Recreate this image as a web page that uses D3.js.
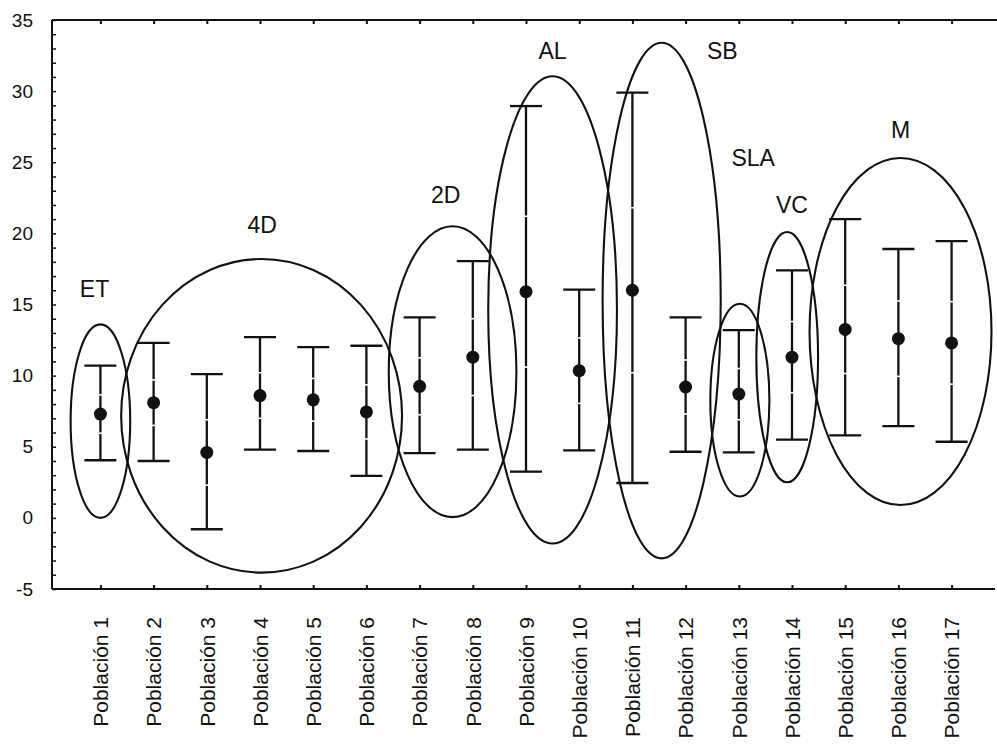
<!DOCTYPE html>
<html>
<head>
<meta charset="utf-8">
<script src="https://cdn.jsdelivr.net/npm/d3@7"></script>
<style>
  html, body { margin: 0; padding: 0; background: #fff; }
  svg { display: block; font-family: "Liberation Sans", Arial, sans-serif; }
</style>
</head>
<body>
<svg id="chart" width="997" height="745"></svg>
<script>
// Populations along the x axis
const categories = ["Población 1","Población 2","Población 3","Población 4","Población 5",
  "Población 6","Población 7","Población 8","Población 9","Población 10","Población 11",
  "Población 12","Población 13","Población 14","Población 15","Población 16","Población 17"];

// Mean and whisker ends for each population
const means = [7.3, 8.1, 4.6, 8.6, 8.3, 7.45, 9.25, 11.3, 15.9, 10.35, 16.0, 9.2, 8.7, 11.3, 13.25, 12.6, 12.3];
const upper = [10.7, 12.3, 10.1, 12.7, 12.0, 12.1, 14.1, 18.05, 28.95, 16.05, 29.9, 14.1, 13.2, 17.4, 21.0, 18.9, 19.45];
const lower = [4.05, 4.0, -0.8, 4.8, 4.7, 2.95, 4.55, 4.8, 3.25, 4.75, 2.45, 4.65, 4.6, 5.5, 5.8, 6.45, 5.35];
// Inner (standard error) marks on each whisker
const se = [1.35, 1.6, 2.3, 1.6, 1.5, 1.9, 2.0, 2.7, 5.3, 2.3, 5.8, 1.9, 1.8, 2.5, 3.1, 2.65, 2.9];

// Y axis ticks
const yLabelTicks = [-5, 0, 5, 10, 15, 20, 25, 30, 35];
const yMinorTicks = d3.range(-5, 36, 1);

// Group ellipses: name, centre (population index), half width (in populations), top and bottom values
const groupNames  = ["ET", "4D", "2D", "AL", "SB", "SLA", "VC", "M"];
const groupCenter = [1.0, 4.03, 7.62, 9.5, 11.55, 13.02, 13.91, 16.04];
const groupHalfW  = [0.56, 2.64, 1.2, 1.21, 1.11, 0.555, 0.58, 1.71];
const groupTop    = [13.6, 18.2, 20.5, 31.05, 33.4, 15.05, 20.1, 25.3];
const groupBottom = [0.0, -3.85, 0.05, -1.8, -2.85, 1.5, 2.5, 0.9];
// Group label anchors (population index, value)
const labelPos    = [0.89, 4.04, 7.49, 9.5, 12.69, 13.27, 14.0, 16.04];
const labelVal    = [16.1, 20.6, 22.7, 32.8, 32.8, 25.3, 22.0, 27.3];

const svg = d3.select("#chart");
const plotLeft = 52, plotTop = 20, plotBottom = 589, plotRight = 1000;

const x = d3.scalePoint().domain(categories).range([plotLeft, plotRight]).padding(0.91);
const xi = d3.scaleLinear().domain([1, categories.length])
  .range([x(categories[0]), x(categories[categories.length - 1])]);
const y = d3.scaleLinear().domain([-5, 35]).range([plotBottom, plotTop]);

const data = categories.map((c, i) => ({ c, m: means[i], hi: upper[i], lo: lower[i], se: se[i] }));
const groups = groupNames.map((g, i) => ({
  g, cx: groupCenter[i], rx: groupHalfW[i], t: groupTop[i], b: groupBottom[i],
  lx: labelPos[i], ly: labelVal[i]
}));

// Frame lines (left, top, bottom)
const frame = svg.append("g").attr("stroke", "#111").attr("stroke-width", 2).attr("fill", "none");
frame.append("line").attr("x1", plotLeft).attr("x2", plotLeft).attr("y1", plotTop).attr("y2", plotBottom);
frame.append("line").attr("x1", plotLeft).attr("x2", 997).attr("y1", plotTop).attr("y2", plotTop);
frame.append("line").attr("x1", plotLeft).attr("x2", 995).attr("y1", plotBottom).attr("y2", plotBottom);

// Y axis labels (plain hyphen for negatives)
const yAxis = svg.append("g").attr("transform", `translate(${plotLeft},0)`)
  .call(d3.axisLeft(y).tickValues(yLabelTicks).tickSize(0).tickPadding(19).tickFormat(d => String(d)));
yAxis.select(".domain").remove();
yAxis.selectAll("text").attr("font-size", 19).attr("fill", "#111")
  .attr("font-family", "Liberation Sans, Arial, sans-serif");

// Minor ticks on the inside of the left axis
const yMinor = svg.append("g").attr("transform", `translate(${plotLeft},0)`)
  .call(d3.axisRight(y).tickValues(yMinorTicks).tickSize(4).tickFormat(""));
yMinor.select(".domain").remove();
yMinor.selectAll("line").attr("stroke", "#111").attr("stroke-width", 1.5);

// Top axis ticks (inward)
const xTop = svg.append("g").attr("transform", `translate(0,${plotTop})`)
  .call(d3.axisBottom(x).tickSize(4).tickFormat(""));
xTop.select(".domain").remove();
xTop.selectAll("line").attr("stroke", "#111").attr("stroke-width", 2);

// Bottom axis with rotated population labels
const xAxis = svg.append("g").attr("transform", `translate(0,${plotBottom})`)
  .call(d3.axisBottom(x).tickSizeInner(-4).tickSizeOuter(0));
xAxis.select(".domain").remove();
xAxis.selectAll("line").attr("stroke", "#111").attr("stroke-width", 2);
xAxis.selectAll("text")
  .attr("font-size", 21).attr("fill", "#111")
  .attr("font-family", "Liberation Sans, Arial, sans-serif")
  .attr("transform", "rotate(-90)")
  .attr("text-anchor", "end")
  .attr("x", -28).attr("y", 0).attr("dy", "0.35em");

// Group ellipses
svg.append("g").selectAll("ellipse").data(groups).join("ellipse")
  .attr("cx", d => xi(d.cx))
  .attr("cy", d => (y(d.t) + y(d.b)) / 2)
  .attr("rx", d => xi(d.cx + d.rx) - xi(d.cx))
  .attr("ry", d => (y(d.b) - y(d.t)) / 2)
  .attr("fill", "none").attr("stroke", "#111").attr("stroke-width", 2.1);

// Group labels
svg.append("g").selectAll("text").data(groups).join("text")
  .attr("x", d => xi(d.lx)).attr("y", d => y(d.ly))
  .attr("text-anchor", "middle").attr("dominant-baseline", "central")
  .attr("font-size", 23).attr("fill", "#111")
  .text(d => d.g);

// Error bars
const bars = svg.append("g");
bars.selectAll("line.whisker").data(data).join("line").attr("class", "whisker")
  .attr("x1", d => x(d.c)).attr("x2", d => x(d.c))
  .attr("y1", d => y(d.hi)).attr("y2", d => y(d.lo))
  .attr("stroke", "#111").attr("stroke-width", 2.3);

// Light breaks marking the standard error on each whisker
const seMarks = data.flatMap(d => [d.m + d.se, d.m - d.se].map(v => ({ c: d.c, v })));
bars.selectAll("line.se").data(seMarks).join("line").attr("class", "se")
  .attr("x1", d => x(d.c) - 2.5).attr("x2", d => x(d.c) + 2.5)
  .attr("y1", d => y(d.v)).attr("y2", d => y(d.v))
  .attr("stroke", "#fff").attr("stroke-width", 1.6);

bars.selectAll("line.capHi").data(data).join("line").attr("class", "capHi")
  .attr("x1", d => x(d.c) - 16).attr("x2", d => x(d.c) + 16)
  .attr("y1", d => y(d.hi)).attr("y2", d => y(d.hi))
  .attr("stroke", "#111").attr("stroke-width", 2.3);
bars.selectAll("line.capLo").data(data).join("line").attr("class", "capLo")
  .attr("x1", d => x(d.c) - 16).attr("x2", d => x(d.c) + 16)
  .attr("y1", d => y(d.lo)).attr("y2", d => y(d.lo))
  .attr("stroke", "#111").attr("stroke-width", 2.3);

// Means
bars.selectAll("circle").data(data).join("circle")
  .attr("cx", d => x(d.c)).attr("cy", d => y(d.m))
  .attr("r", 6.5).attr("fill", "#111");
</script>
</body>
</html>
